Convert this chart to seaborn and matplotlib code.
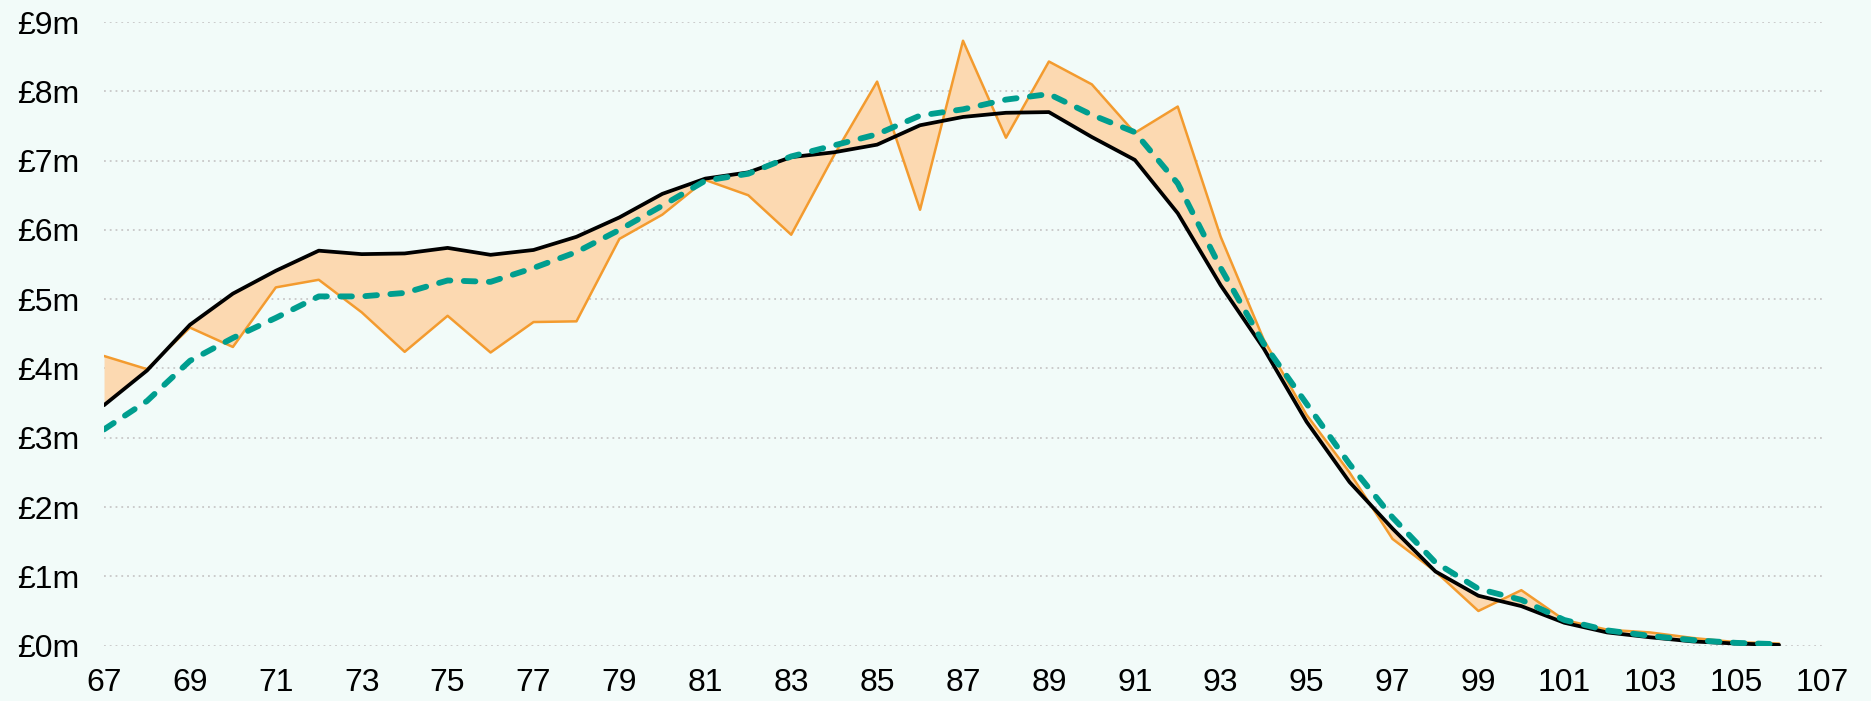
import numpy as np
import pandas as pd
import matplotlib
matplotlib.use("Agg")
import matplotlib.pyplot as plt
import seaborn as sns

# Age axis
ages = list(range(67, 107))

# Smooth fitted curve (black)
fitted = [3.47, 3.97, 4.63, 5.08, 5.41, 5.70, 5.65, 5.66, 5.74, 5.64,
          5.71, 5.90, 6.18, 6.52, 6.74, 6.83, 7.05, 7.12, 7.23, 7.51,
          7.63, 7.69, 7.70, 7.34, 7.01, 6.24, 5.20, 4.29, 3.23, 2.36,
          1.69, 1.07, 0.72, 0.57, 0.33, 0.19, 0.12, 0.06, 0.03, 0.01]

# Observed values (orange)
observed = [4.18, 3.99, 4.59, 4.31, 5.17, 5.28, 4.81, 4.24, 4.76, 4.23,
            4.67, 4.68, 5.87, 6.22, 6.72, 6.50, 5.93, 7.08, 8.14, 6.29,
            8.73, 7.33, 8.43, 8.10, 7.40, 7.78, 5.90, 4.42, 3.33, 2.50,
            1.54, 1.07, 0.50, 0.80, 0.37, 0.23, 0.19, 0.11, 0.05, 0.03]

# Rolling average (teal dashed)
rolling = [3.12, 3.53, 4.11, 4.44, 4.73, 5.04, 5.04, 5.09, 5.27, 5.25,
           5.45, 5.68, 6.00, 6.35, 6.71, 6.81, 7.06, 7.22, 7.38, 7.65,
           7.74, 7.88, 7.96, 7.66, 7.41, 6.67, 5.45, 4.36, 3.49, 2.62,
           1.85, 1.20, 0.82, 0.66, 0.37, 0.22, 0.14, 0.08, 0.04, 0.02]

x_ticks = list(range(67, 108, 2))
y_ticks = list(range(0, 10))
y_labels = [f"£{v}m" for v in y_ticks]

df = pd.DataFrame({"age": ages, "fitted": fitted,
                   "observed": observed, "rolling": rolling})

BG = "#f2fbf9"
ORANGE = "#f39b2f"
FILL = "#fcd9b1"
TEAL = "#009e8f"

sns.set_theme(style="white")
plt.rcParams["font.family"] = ["Liberation Sans", "DejaVu Sans"]

fig = plt.figure(figsize=(18.71, 7.01), dpi=100, facecolor=BG)
ax = fig.add_axes([0.0556, 0.079, 0.9182, 0.8896])
ax.set_facecolor(BG)

# Shaded gap between observed and fitted values
ax.fill_between(df["age"], df["observed"], df["fitted"],
                color=FILL, linewidth=0, zorder=1)

sns.lineplot(data=df, x="age", y="observed", ax=ax, color=ORANGE,
             linewidth=1.8, zorder=2)
sns.lineplot(data=df, x="age", y="fitted", ax=ax, color="black",
             linewidth=2.7, zorder=3)
sns.lineplot(data=df, x="age", y="rolling", ax=ax, color=TEAL,
             linewidth=4.2, zorder=4)
teal_line = ax.get_lines()[-1]
teal_line.set_dashes((2.0, 2.3))
teal_line.set_dash_capstyle("round")

ax.set_xlim(67, 107)
ax.set_ylim(0, 9)
ax.set_xticks(x_ticks)
ax.set_xticklabels([str(t) for t in x_ticks])
ax.set_yticks(y_ticks)
ax.set_yticklabels(y_labels)
ax.set_xlabel("")
ax.set_ylabel("")

ax.yaxis.grid(True, color="#c8c8c8", linestyle=(0, (1, 2.2)), linewidth=1.3)
ax.xaxis.grid(False)
ax.set_axisbelow(True)
for s in ax.spines.values():
    s.set_visible(False)

ax.tick_params(axis="both", length=0, labelsize=23, colors="black")
ax.tick_params(axis="y", pad=18)
ax.tick_params(axis="x", pad=16)

fig.savefig("out.png", dpi=100, facecolor=BG)
